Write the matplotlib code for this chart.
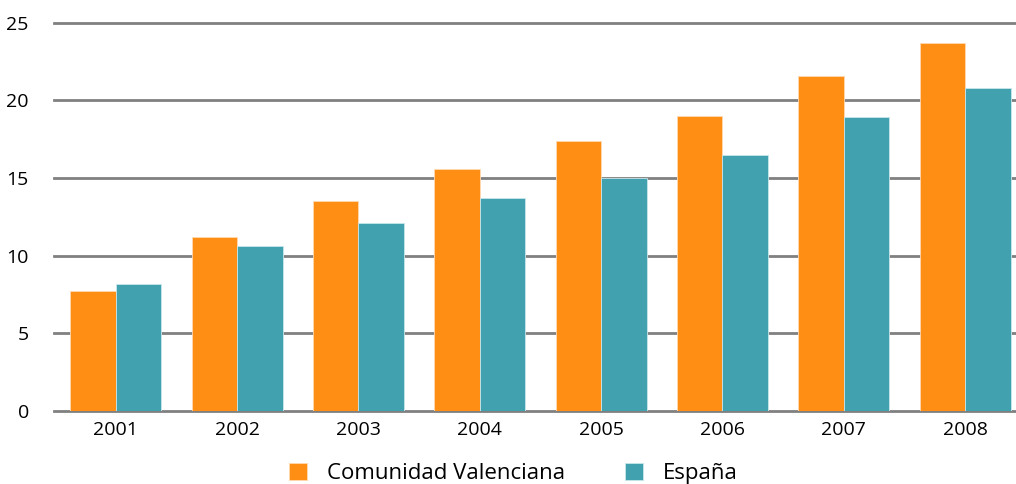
"""Bar chart - Comunidad Valenciana vs España, 2001-2008."""

import numpy as np
import matplotlib
matplotlib.use("Agg")
import matplotlib.pyplot as plt

years = ["2001", "2002", "2003", "2004", "2005", "2006", "2007", "2008"]
valenciana = [7.7, 11.2, 13.5, 15.6, 17.4, 19.0, 21.6, 23.7]
espana = [8.2, 10.6, 12.1, 13.7, 15.0, 16.5, 18.9, 20.8]

plt.rcParams["font.family"] = ["Open Sans", "DejaVu Sans"]

fig = plt.figure(figsize=(10.16, 4.84), dpi=100)
ax = fig.add_axes([0.053, 0.151, 0.947, 0.802])

x = np.arange(len(years))
w = 0.375

ax.bar(x - w / 2, valenciana, w, color="#FF8F14", edgecolor="#FFD9B0",
       linewidth=0.6, label="Comunidad Valenciana", zorder=3)
ax.bar(x + w / 2, espana, w, color="#42A1AF", edgecolor="#C8E6EB",
       linewidth=0.6, label="España", zorder=3)

ax.set_ylim(0, 25)
ax.set_xlim(-0.51, 7.42)
ax.set_yticks([0, 5, 10, 15, 20, 25])
ax.set_xticks(x)
ax.set_xticklabels(years)

ax.yaxis.grid(True, color="#808080", linewidth=2, zorder=0)
for gl in ax.get_ygridlines():
    gl.set_clip_on(False)
for s in ax.spines.values():
    s.set_visible(False)
ax.tick_params(axis="both", length=0, labelsize=14, colors="#000000")
ax.tick_params(axis="y", pad=18)
ax.tick_params(axis="x", pad=7)

ax.legend(loc="center", bbox_to_anchor=(0.478, -0.162), ncol=2,
          frameon=False, fontsize=16, handlelength=0.8, handleheight=0.8,
          columnspacing=2.7, handletextpad=0.9, borderpad=0.2)

fig.savefig("out.png", dpi=100)
